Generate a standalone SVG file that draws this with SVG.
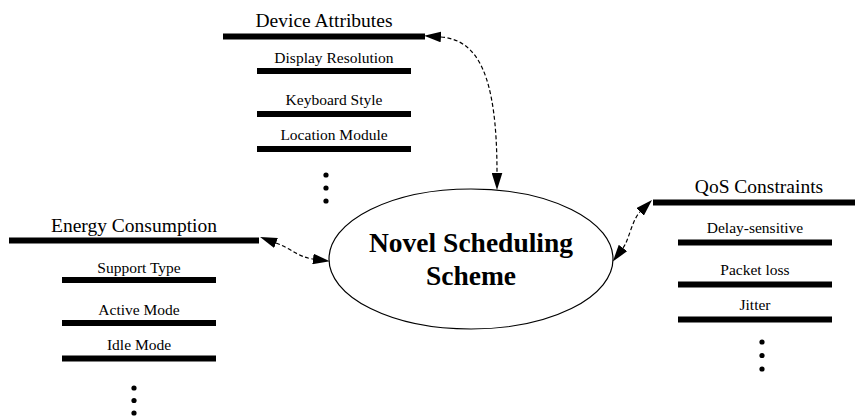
<svg xmlns="http://www.w3.org/2000/svg" width="855" height="416" viewBox="0 0 855 416">
<style>
.bar{stroke:#000;stroke-width:6;fill:none}
.title{font-family:"Liberation Serif","Times New Roman",serif;font-size:19.5px;text-anchor:middle;fill:#000}
.sub{font-family:"Liberation Serif","Times New Roman",serif;font-size:15.5px;text-anchor:middle;fill:#000}
.main{font-family:"Liberation Serif","Times New Roman",serif;font-size:27.5px;font-weight:bold;text-anchor:middle;fill:#000}
.dot{fill:#000}
.conn{fill:none;stroke:#000;stroke-width:1.2;stroke-dasharray:4 2.5;marker-start:url(#ah);marker-end:url(#ah)}
</style>
<defs>
<marker id="ah" markerUnits="userSpaceOnUse" markerWidth="17" markerHeight="11" refX="0" refY="5" orient="auto-start-reverse" viewBox="0 0 16 10">
<path d="M0,0 L16,5 L0,10 z" fill="#000"/>
</marker>
</defs>
<g id="device-attributes">
<text class="title" x="324" y="27">Device Attributes</text>
<line class="bar" x1="223" y1="36.5" x2="425" y2="36.5"/>
<text class="sub" x="334" y="63">Display Resolution</text>
<line class="bar" x1="257" y1="71" x2="411" y2="71"/>
<text class="sub" x="334" y="105">Keyboard Style</text>
<line class="bar" x1="257" y1="114" x2="411" y2="114"/>
<text class="sub" x="334" y="140">Location Module</text>
<line class="bar" x1="257" y1="149" x2="411" y2="149"/>
<circle class="dot" cx="326" cy="175" r="2.6"/>
<circle class="dot" cx="326" cy="188" r="2.6"/>
<circle class="dot" cx="326" cy="201" r="2.6"/>
</g>
<g id="energy-consumption">
<text class="title" x="134" y="232">Energy Consumption</text>
<line class="bar" x1="9" y1="240.5" x2="259" y2="240.5"/>
<text class="sub" x="139" y="272.5">Support Type</text>
<line class="bar" x1="62" y1="280" x2="216" y2="280"/>
<text class="sub" x="139" y="314.5">Active Mode</text>
<line class="bar" x1="62" y1="323" x2="216" y2="323"/>
<text class="sub" x="139" y="350">Idle Mode</text>
<line class="bar" x1="62" y1="358.5" x2="216" y2="358.5"/>
<circle class="dot" cx="134" cy="388" r="2.6"/>
<circle class="dot" cx="134" cy="400.5" r="2.6"/>
<circle class="dot" cx="134" cy="413" r="2.6"/>
</g>
<g id="qos-constraints">
<text class="title" x="759" y="192.5">QoS Constraints</text>
<line class="bar" x1="653" y1="202.5" x2="855" y2="202.5"/>
<text class="sub" x="755" y="233">Delay-sensitive</text>
<line class="bar" x1="678" y1="242.5" x2="832" y2="242.5"/>
<text class="sub" x="755" y="275">Packet loss</text>
<line class="bar" x1="678" y1="284.5" x2="832" y2="284.5"/>
<text class="sub" x="755" y="310">Jitter</text>
<line class="bar" x1="678" y1="319.5" x2="832" y2="319.5"/>
<circle class="dot" cx="762" cy="342" r="2.6"/>
<circle class="dot" cx="762" cy="355.5" r="2.6"/>
<circle class="dot" cx="762" cy="369" r="2.6"/>
</g>
<g id="novel-scheduling-scheme">
<ellipse cx="471" cy="259" rx="142" ry="70" fill="#fff" stroke="#000" stroke-width="1.2"/>
<text class="main" x="471" y="252">Novel Scheduling</text>
<text class="main" x="471" y="285">Scheme</text>
</g>
<g id="connectors">
<path class="conn" d="M441,37 C478,40 497,75 497,173"/>
<path class="conn" d="M276,243 C292,249 298,257 313,259"/>
<path class="conn" d="M623,248 C629,240 632,220 640,212"/>
</g>
</svg>
